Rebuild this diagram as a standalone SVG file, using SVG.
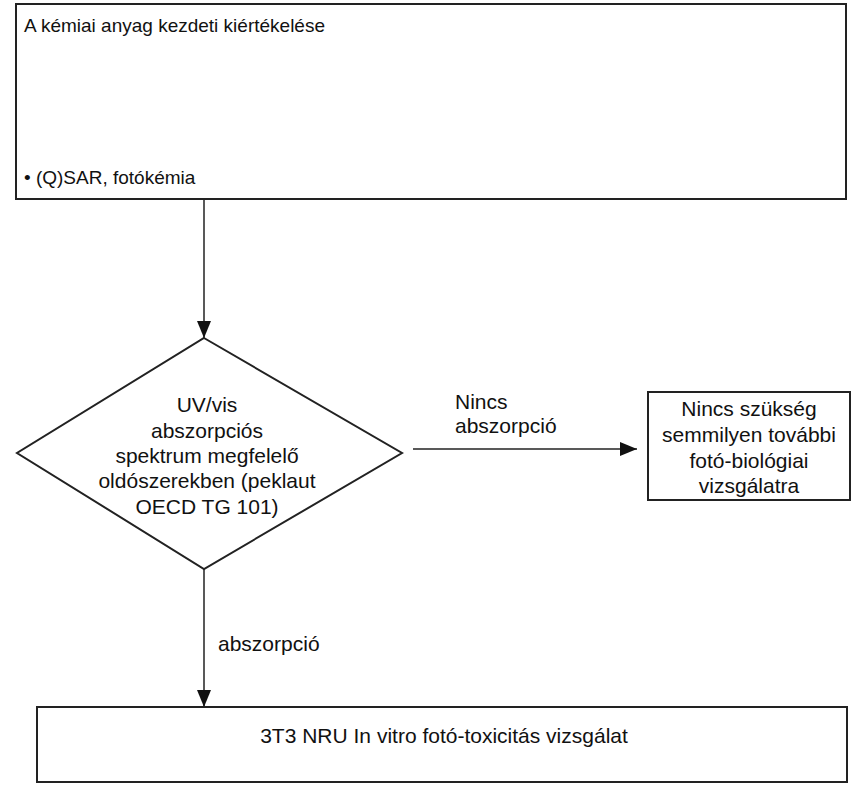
<svg xmlns="http://www.w3.org/2000/svg" width="866" height="787" viewBox="0 0 866 787">
<defs>
<style>
.box{fill:#fff;stroke:#222;stroke-width:2}
.t{font-family:"Liberation Sans",Arial,sans-serif;font-size:21px;fill:#111}
.s{font-size:19px}
.c{text-anchor:middle}
.ln{stroke:#222;stroke-width:1.5;fill:none}
</style>
<marker id="ahb" viewBox="0 0 17 14" refX="17" refY="7" markerWidth="17" markerHeight="14" markerUnits="userSpaceOnUse" orient="auto">
<path d="M0,0 L17,7 L0,14 z" fill="#111"/>
</marker>
</defs>
<rect width="866" height="787" fill="#fff"/>
<g id="connectors">
<line class="ln" x1="204" y1="199" x2="204" y2="338" marker-end="url(#ahb)"/>
<line class="ln" x1="413" y1="449" x2="637" y2="449" marker-end="url(#ahb)"/>
<line class="ln" x1="204" y1="569" x2="204" y2="707" marker-end="url(#ahb)"/>
<text class="t" x="455" y="409">Nincs</text>
<text class="t" x="455" y="433">abszorpció</text>
<text class="t" x="218" y="651">abszorpció</text>
</g>
<g id="node-start">
<rect class="box" x="16" y="4" width="830" height="195"/>
<text class="t s" x="24" y="32">A kémiai anyag kezdeti kiértékelése</text>
<text class="t s" x="24" y="184">• (Q)SAR, fotókémia</text>
</g>
<g id="node-decision">
<polygon class="box" points="204,338 402,453 204,569 17,453"/>
<text class="t c" x="207" y="412">UV/vis</text>
<text class="t c" x="207" y="438">abszorpciós</text>
<text class="t c" x="207" y="463">spektrum megfelelő</text>
<text class="t c" x="207" y="488">oldószerekben (peklaut</text>
<text class="t c" x="207" y="514">OECD TG 101)</text>
</g>
<g id="node-nofurther">
<rect class="box" x="648" y="392" width="202" height="108"/>
<text class="t c" x="749" y="416">Nincs szükség</text>
<text class="t c" x="749" y="442">semmilyen további</text>
<text class="t c" x="749" y="468">fotó-biológiai</text>
<text class="t c" x="749" y="493">vizsgálatra</text>
</g>
<g id="node-3t3">
<rect class="box" x="37" y="707" width="810" height="75"/>
<text class="t c" x="444" y="743">3T3 NRU In vitro fotó-toxicitás vizsgálat</text>
</g>
</svg>
